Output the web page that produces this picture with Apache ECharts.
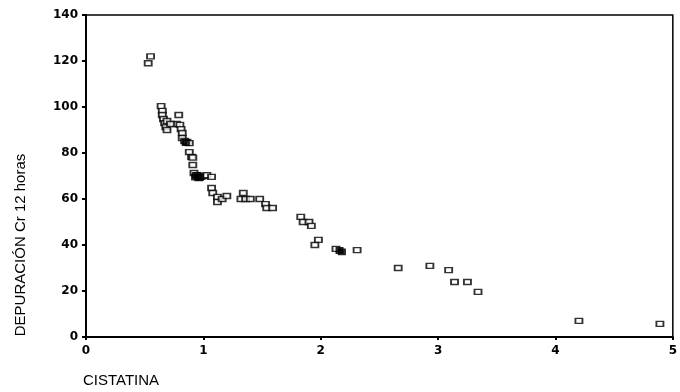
<!DOCTYPE html>
<html>
<head>
<meta charset="utf-8">
<script src="https://cdn.jsdelivr.net/npm/echarts@6/dist/echarts.min.js"></script>
<style>
  html, body { margin: 0; padding: 0; background: #fff; }
  #chart { width: 680px; height: 392px; }
</style>
</head>
<body>
<div id="chart"></div>
<script>
  // cistatina vs depuración Cr 12 horas
  const cistatina = [
    0.55, 0.53, 0.64, 0.65, 0.65, 0.66, 0.67, 0.68, 0.69, 0.69,
    0.79, 0.77, 0.72, 0.80, 0.81, 0.82, 0.82, 0.84, 0.86, 0.88,
    0.88, 0.90, 0.91, 0.91, 0.92, 0.94, 0.96, 0.98, 1.01, 1.03,
    1.07, 1.07, 1.08, 1.12, 1.12, 1.16, 1.20, 1.34, 1.32, 1.36,
    1.40, 1.48, 1.53, 1.54, 1.59, 1.83, 1.85, 1.90, 1.92, 1.98,
    1.95, 2.13, 2.31, 2.66, 2.93, 3.09, 3.14, 3.25, 3.34, 4.20,
    4.89
  ]
  const depuracion = [
    122, 119, 100.4, 98.3, 96.5, 94.8, 93, 91.3, 93.9, 90,
    96.5, 92.6, 92.6, 92.2, 90.4, 88.7, 86.5, 85.2, 84.8, 84.3,
    80.4, 78.3, 78, 74.8, 71.3, 70.4, 69.1, 69.6, 70, 70.4,
    69.6, 64.8, 62.6, 60.9, 58.7, 60, 61.3, 62.6, 60, 60,
    60, 60, 57.8, 56.1, 56.1, 52.2, 50, 50, 48.3, 42.2,
    40, 38.3, 37.8, 30, 30.9, 29.1, 23.9, 23.9, 19.6, 7,
    5.7
  ]
  // overlapping points that print as solid blobs
  const cistatinaSolid = [0.85, 0.95, 0.97, 0.93, 2.16, 2.18]
  const depuracionSolid = [84.6, 70.2, 69.4, 69.6, 37.6, 37.0]

  const xTicks = [0, 1, 2, 3, 4, 5]
  const yTicks = [0, 20, 40, 60, 80, 100, 120, 140]

  const chart = echarts.init(document.getElementById('chart'))
  const font = 'Liberation Sans, Arial, sans-serif'

  chart.setOption({
    animation: false,
    grid: {
      left: 86,
      right: 4,
      top: 15,
      bottom: 55,
      show: true,
      borderColor: '#000',
      borderWidth: 1.5
    },
    xAxis: {
      type: 'value',
      min: xTicks[0],
      max: xTicks[xTicks.length - 1],
      interval: 1,
      axisLine: { lineStyle: { color: '#000', width: 2 } },
      axisTick: { length: 3, lineStyle: { color: '#000', width: 2 } },
      axisLabel: {
        color: '#000',
        fontFamily: 'DejaVu Sans',
        fontWeight: 'bold',
        fontSize: 12,
        margin: 8
      },
      splitLine: { show: false }
    },
    yAxis: {
      type: 'value',
      min: yTicks[0],
      max: yTicks[yTicks.length - 1],
      interval: 20,
      axisLine: { lineStyle: { color: '#000', width: 2 } },
      axisTick: { length: 4, lineStyle: { color: '#000', width: 2 } },
      axisLabel: {
        color: '#000',
        fontFamily: 'DejaVu Sans',
        fontWeight: 'bold',
        fontSize: 12,
        margin: 8
      },
      splitLine: { show: false }
    },
    graphic: [
      {
        type: 'text',
        x: 21,
        y: 245,
        rotation: Math.PI / 2,
        style: {
          text: 'DEPURACIÓN Cr 12 horas',
          fill: '#000',
          font: '15px ' + font,
          textAlign: 'center',
          textVerticalAlign: 'middle'
        }
      },
      {
        type: 'text',
        left: 83,
        top: 373,
        style: {
          text: 'CISTATINA',
          fill: '#000',
          font: '15px ' + font
        }
      }
    ],
    series: [
      {
        type: 'scatter',
        symbol: 'rect',
        symbolSize: [7, 5],
        itemStyle: { color: '#fff', borderColor: '#000', borderWidth: 1.6 },
        data: cistatina.map((v, i) => [v, depuracion[i]])
      },
      {
        type: 'scatter',
        symbol: 'rect',
        symbolSize: [7, 6],
        itemStyle: { color: '#000', borderColor: '#000', borderWidth: 1 },
        data: cistatinaSolid.map((v, i) => [v, depuracionSolid[i]])
      }
    ]
  })
</script>
</body>
</html>
